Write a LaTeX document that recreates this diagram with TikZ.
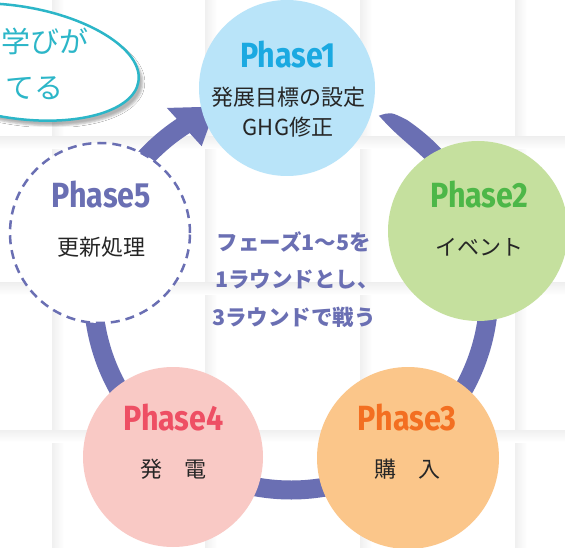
\documentclass[tikz,border=0pt]{standalone}
\usepackage{fontspec}
\setmainfont{Fira Sans}
\newfontfamily\jp{Noto Sans CJK JP}
\usetikzlibrary{calc,shadows.blur}
\definecolor{ringc}{HTML}{6A6FB3}
\definecolor{fa}{HTML}{B9E4F9}\definecolor{ta}{HTML}{1BA9E1}
\definecolor{fb}{HTML}{C5E09E}\definecolor{tb}{HTML}{4DB748}
\definecolor{fc}{HTML}{FBC68A}\definecolor{tc}{HTML}{F36F21}
\definecolor{fd}{HTML}{F9C9C5}\definecolor{td}{HTML}{EE4F64}
\definecolor{bub}{HTML}{2CB6C8}
\newcommand{\phs}[1]{\scalebox{0.87}[1]{\fontsize{35}{35}\selectfont\bfseries #1}}
\tikzset{
  phasecirc/.style={circle, inner sep=0, minimum size=#1},
  phaselabel/.style={inner sep=0, anchor=center},
  jptext/.style={inner sep=0, anchor=center, font=\jp\fontsize{22}{22}\selectfont, text=black!85},
  midtext/.style={inner sep=0, anchor=center, font=\jp\bfseries\fontsize{21.5}{21.5}\selectfont, text=ringc},
  tileshade/.style={left color=black!6, right color=white},
  tileshadeh/.style={top color=black!6, bottom color=white}
}
\begin{document}
\begin{tikzpicture}[x=1pt,y=1pt]
\useasboundingbox (0,0) rectangle (565,547);
\fill[white] (0,0) rectangle (565,547);
% background tiles
\foreach \x in {52,205,360,515} \shade[tileshade] (\x,0) rectangle ++(12,547);
\foreach \y in {410,264,117} \shade[tileshadeh] (0,\y) rectangle ++(565,-12);
% bubble
\draw[bub, line width=2.5, fill=white, blur shadow={shadow xshift=4pt, shadow yshift=-5pt, shadow opacity=30},
  rotate around={-9:(15,485)}] (15,485) ellipse [x radius=125, y radius=56];
\node[inner sep=0, anchor=east, font=\jp\fontsize{29}{29}\selectfont, text=bub] (bub1) at (89,506) {学びが};
\node[inner sep=0, anchor=east, font=\jp\fontsize{29}{29}\selectfont, text=bub] (bub2) at (64,459) {てる};
% ring
\coordinate (C) at (291,255);
\draw[ringc, line width=19] ($(C)+(41:198)$) arc[start angle=41, end angle=-238.5, radius=198];
\fill[ringc] ($(C)+(63.5:197)$) .. controls ($(C)+(61:206)$) .. ($(C)+(56:207.5)$)
  arc[start angle=56, end angle=40, radius=207.5] -- ($(C)+(40:188.5)$)
  arc[start angle=40, end angle=50, radius=188.5] .. controls ($(C)+(58:191)$) .. cycle;
\fill[ringc] ($(C)+(112:200)$) -- ($(C)+(124:222)$) -- ($(C)+(121.5:171)$) -- cycle;
% circles
\node[phasecirc=176, fill=fa] (p1) at (287,459) {};
\node[phasecirc=180, fill=fb] (p2) at (478,316) {};
\node[phasecirc=182, fill=fc] (p3) at (408,89) {};
\node[phasecirc=180, fill=fd] (p4) at (173,90) {};
\node[phasecirc=180, fill=white, draw=ringc, line width=2.5, dash pattern=on 9pt off 6pt] (p5) at (100,314) {};
% labels
\node[phaselabel, text=ta] (l1) at (288,492.5) {\phs{Phase1}};
\node[jptext] (s1a) at (288,450) {発展目標の設定};
\node[jptext] (s1b) at (288,420) {GHG修正};
\node[phaselabel, text=tb] (l2) at (479.5,352.5) {\phs{Phase2}};
\node[jptext] (s2) at (479,300) {イベント};
\node[phaselabel, text=tc] (l3) at (407,129.5) {\phs{Phase3}};
\node[jptext] (s3) at (407,78) {購　入};
\node[phaselabel, text=td] (l4) at (173.5,129.5) {\phs{Phase4}};
\node[jptext] (s4) at (173,78) {発　電};
\node[phaselabel, text=ringc] (l5) at (101,352.5) {\phs{Phase5}};
\node[jptext] (s5) at (101,300) {更新処理};
% center text
\node[midtext] (m1) at (294,305) {フェーズ1～5を};
\node[midtext] (m2) at (297,268) {1ラウンドとし、};
\node[midtext] (m3) at (294,230) {3ラウンドで戦う};
\end{tikzpicture}
\end{document}
